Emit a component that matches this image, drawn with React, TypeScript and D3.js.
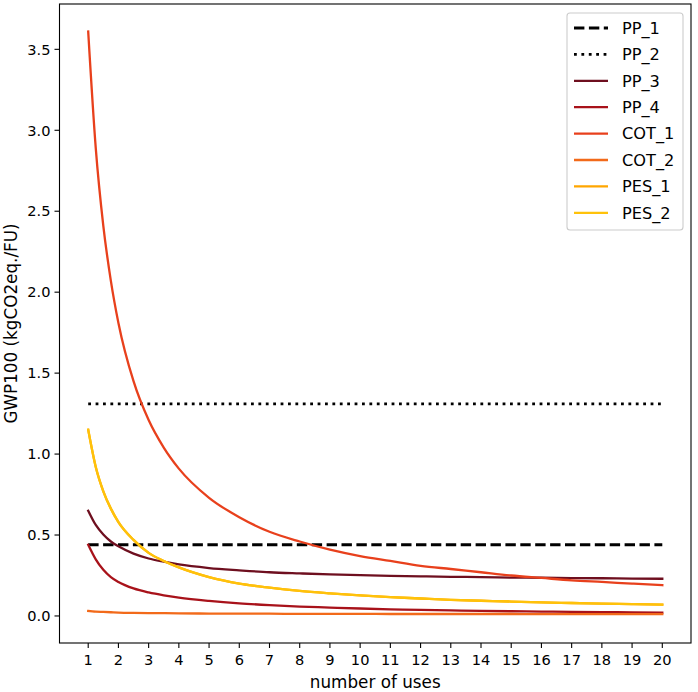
import React from "react";
import * as d3 from "d3";

const uses = [1, 1.25, 1.5, 1.75, 2, 2.5, 3, 3.5, 4, 5, 6, 7, 8, 9, 10, 11, 12, 13, 14, 15, 16, 17, 18, 19, 20];

const pp1 = uses.map(() => 0.44);
const pp2 = uses.map(() => 1.31);
const pp3 = [0.65, 0.562, 0.503, 0.46, 0.43, 0.385, 0.355, 0.335, 0.318, 0.296, 0.282, 0.27, 0.263, 0.257, 0.252, 0.248, 0.245, 0.242, 0.24, 0.237, 0.236, 0.234, 0.233, 0.231, 0.23];
const pp4 = [0.44, 0.35, 0.285, 0.24, 0.21, 0.17, 0.145, 0.127, 0.113, 0.093, 0.078, 0.067, 0.058, 0.052, 0.046, 0.041, 0.037, 0.034, 0.031, 0.029, 0.027, 0.025, 0.024, 0.022, 0.021];
const cot1 = [3.61, 2.89, 2.41, 2.07, 1.81, 1.45, 1.21, 1.04, 0.91, 0.73, 0.61, 0.52, 0.46, 0.41, 0.37, 0.34, 0.31, 0.29, 0.27, 0.25, 0.235, 0.22, 0.21, 0.2, 0.19];
const cot2 = [0.031, 0.027, 0.025, 0.023, 0.021, 0.019, 0.018, 0.017, 0.016, 0.015, 0.014, 0.014, 0.013, 0.013, 0.013, 0.012, 0.012, 0.012, 0.012, 0.012, 0.011, 0.011, 0.011, 0.011, 0.011];
const pes1 = [1.15, 0.92, 0.77, 0.663, 0.58, 0.47, 0.39, 0.34, 0.3, 0.24, 0.2, 0.175, 0.155, 0.14, 0.127, 0.116, 0.108, 0.1, 0.094, 0.089, 0.084, 0.08, 0.076, 0.073, 0.07];
const pes2 = [1.15, 0.92, 0.77, 0.663, 0.58, 0.47, 0.39, 0.34, 0.3, 0.24, 0.2, 0.175, 0.155, 0.14, 0.127, 0.116, 0.108, 0.1, 0.094, 0.089, 0.084, 0.08, 0.076, 0.073, 0.07];

const seriesNames = ["PP_1", "PP_2", "PP_3", "PP_4", "COT_1", "COT_2", "PES_1", "PES_2"];
const seriesValues = [pp1, pp2, pp3, pp4, cot1, cot2, pes1, pes2];
const seriesColors = ["#000000", "#000000", "#6e0f1f", "#a8121a", "#e8401c", "#f26a1a", "#ffa600", "#ffc20a"];
const seriesStyles = ["dashed", "dotted", "solid", "solid", "solid", "solid", "solid", "solid"];

const xTicks = d3.range(1, 21);
const yTicks = [0, 0.5, 1.0, 1.5, 2.0, 2.5, 3.0, 3.5];

const W = 698;
const H = 692;
const L = 59.5, R = 691, T = 4, B = 643;
const font = "DejaVu Sans, sans-serif";

export default function App() {
  const x = d3.scaleLinear().domain([0.05, 20.95]).range([L, R]);
  const y = d3.scaleLinear().domain([-0.167, 3.78]).range([B, T]);

  const widthFor = (s: string) => (s === "solid" ? 2.3 : 2.8);
  const dashFor = (s: string) => (s === "dashed" ? "10.4,4.5" : s === "dotted" ? "2.8,4.6" : undefined);

  const paths = seriesValues.map((vals) => {
    const gen = d3
      .line<number>()
      .x((_, j) => x(uses[j]))
      .y((v) => y(v))
      .curve(d3.curveMonotoneX);
    return gen(vals) || "";
  });

  const legX = 567, legY = 13, legW = 116, legH = 217;
  const rowH = 26.4;

  return (
    <svg width={W} height={H} style={{ position: "absolute", left: 0, top: 0 }} fontFamily={font}>
      <rect x={0} y={0} width={W} height={H} fill="#fff" />
      {paths.map((d, i) => (
        <path
          key={seriesNames[i]}
          d={d}
          fill="none"
          stroke={seriesColors[i]}
          strokeWidth={widthFor(seriesStyles[i])}
          strokeDasharray={dashFor(seriesStyles[i])}
          strokeLinecap={seriesStyles[i] === "solid" ? "square" : "butt"}
          strokeLinejoin="round"
        />
      ))}
      <rect x={L} y={T} width={R - L} height={B - T} fill="none" stroke="#000" strokeWidth={1.1} />
      {xTicks.map((t) => (
        <g key={"x" + t}>
          <line x1={x(t)} x2={x(t)} y1={B} y2={B + 5} stroke="#000" strokeWidth={1.1} />
          <text x={x(t)} y={B + 22} textAnchor="middle" fontSize={14.6} fill="#000">
            {t}
          </text>
        </g>
      ))}
      {yTicks.map((t) => (
        <g key={"y" + t}>
          <line x1={L - 5} x2={L} y1={y(t)} y2={y(t)} stroke="#000" strokeWidth={1.1} />
          <text x={L - 9} y={y(t)} dy="0.36em" textAnchor="end" fontSize={14.6} fill="#000">
            {t.toFixed(1)}
          </text>
        </g>
      ))}
      <text x={(L + R) / 2} y={688} textAnchor="middle" fontSize={16.8} fill="#000">
        number of uses
      </text>
      <text
        transform={`translate(17, ${(T + B) / 2}) rotate(-90)`}
        textAnchor="middle"
        fontSize={16.8}
        fill="#000"
      >
        GWP100 (kgCO2eq./FU)
      </text>
      <rect x={legX} y={legY} width={legW} height={legH} rx={3} fill="#fff" fillOpacity={0.8} stroke="#cccccc" strokeWidth={1.1} />
      {seriesNames.map((n, i) => {
        const cy = 28 + i * rowH;
        return (
          <g key={"leg" + n}>
            <line
              x1={574}
              x2={608}
              y1={cy}
              y2={cy}
              stroke={seriesColors[i]}
              strokeWidth={widthFor(seriesStyles[i])}
              strokeDasharray={dashFor(seriesStyles[i])}
            />
            <text x={622} y={cy} dy="0.36em" fontSize={16.2} fill="#000">
              {n}
            </text>
          </g>
        );
      })}
    </svg>
  );
}
